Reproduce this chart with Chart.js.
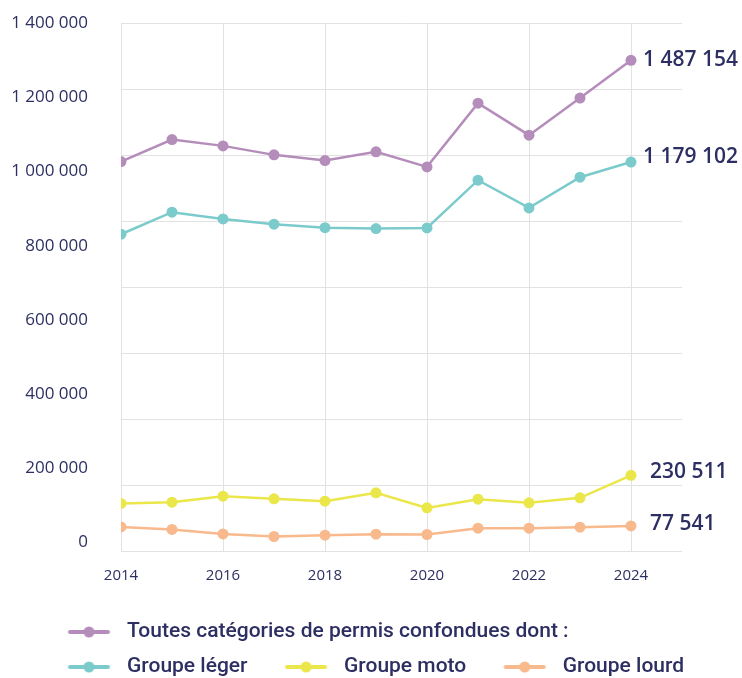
<!DOCTYPE html>
<html>
<head>
<meta charset="utf-8">
<script src="https://cdn.jsdelivr.net/npm/chart.js@4.4.1/dist/chart.umd.min.js"></script>
<style>
  html, body { margin: 0; padding: 0; background: #fff; }
  #wrap { width: 742px; height: 678px; }
</style>
</head>
<body>
<div id="wrap"><canvas id="permisChart" width="742" height="678"></canvas></div>
<script>
const years = [2014, 2015, 2016, 2017, 2018, 2019, 2020, 2021, 2022, 2023, 2024];
const xTicks = [2014, 2016, 2018, 2020, 2022, 2024];
const yTickLabels = [0, 200000, 400000, 600000, 800000, 1000000, 1200000, 1400000];

const seriesNames = [
  'Toutes catégories de permis confondues dont :',
  'Groupe léger',
  'Groupe moto',
  'Groupe lourd'
];
const totalAll = [1180500, 1247000, 1228000, 1200800, 1183500, 1209900, 1164400, 1357400, 1260500, 1372600, 1487154];
const groupeLeger = [960500, 1027200, 1006900, 990800, 980500, 977500, 979600, 1124100, 1040200, 1133200, 1179102];
const groupeMoto = [145400, 149400, 167600, 159400, 152400, 177600, 132100, 158500, 147300, 162400, 230511];
const groupeLourd = [74500, 66700, 53300, 45400, 49400, 52400, 51500, 70600, 70600, 73600, 77541];

const colors = ['#b58dbb', '#7ccbcc', '#ebe64a', '#f8b98c'];
const navy = '#2d2f62';

// espaces comme séparateur de milliers
const fmt = v => String(v).replace(/\B(?=(\d{3})+(?!\d))/g, ' ');

// petit marqueur "ligne + point" pour la légende
function makeMarker(color) {
  const c = document.createElement('canvas');
  c.width = 72; c.height = 14;
  const g = c.getContext('2d');
  g.strokeStyle = color;
  g.lineWidth = 4;
  g.lineCap = 'round';
  g.beginPath();
  g.moveTo(25.5, 7);
  g.lineTo(63.5, 7);
  g.stroke();
  g.fillStyle = color;
  g.beginPath();
  g.arc(44.5, 7, 5.5, 0, Math.PI * 2);
  g.fill();
  return c;
}

const allSeries = [totalAll, groupeLeger, groupeMoto, groupeLourd];
const labelOffsets = [[12, 0], [12, -5], [19, -3], [19, -2]];

const endLabels = {
  id: 'endLabels',
  afterDatasetsDraw(chart) {
    const ctx = chart.ctx;
    ctx.save();
    ctx.font = '600 21px "Open Sans"';
    ctx.fillStyle = navy;
    ctx.textAlign = 'left';
    ctx.textBaseline = 'middle';
    chart.data.datasets.forEach((ds, i) => {
      const meta = chart.getDatasetMeta(i);
      const pt = meta.data[meta.data.length - 1];
      const val = ds.data[ds.data.length - 1].y;
      ctx.fillText(fmt(val), pt.x + labelOffsets[i][0], pt.y + labelOffsets[i][1]);
    });
    ctx.restore();
  }
};

// décale la légende vers la droite (alignée sous les libellés)
const legendShift = {
  id: 'legendShift',
  afterLayout(chart) {
    if (chart.legend) {
      chart.legend.left += 30.5;
      chart.legend.right += 30.5;
    }
  }
};

const ctx = document.getElementById('permisChart').getContext('2d');
new Chart(ctx, {
  type: 'line',
  data: {
    datasets: allSeries.map((arr, i) => ({
      label: seriesNames[i],
      data: years.map((yr, k) => ({ x: yr, y: arr[k] })),
      borderColor: colors[i],
      backgroundColor: colors[i],
      pointBackgroundColor: colors[i],
      pointBorderWidth: 0,
      pointRadius: 5.5,
      borderWidth: 2.5,
      tension: 0,
      fill: false,
      yAxisID: 'y'
    }))
  },
  options: {
    responsive: false,
    animation: false,
    events: [],
    layout: { padding: { top: 23, left: 0, right: 0, bottom: -9.5 } },
    plugins: {
      tooltip: { enabled: false },
      legend: {
        position: 'bottom',
        align: 'start',
        labels: {
          usePointStyle: true,
          pointStyleWidth: 72,
          padding: 14,
          color: navy,
          font: { family: 'Roboto', size: 21, weight: '500' },
          generateLabels: (chart) => {
            const items = Chart.defaults.plugins.legend.labels.generateLabels(chart);
            items.forEach((it, i) => { it.pointStyle = makeMarker(colors[i]); });
            return items;
          }
        }
      }
    },
    scales: {
      x: {
        type: 'linear',
        min: 2014,
        max: 2025,
        afterBuildTicks: axis => { axis.ticks = xTicks.map(v => ({ value: v })); },
        afterFit: axis => { axis.height = 56; },
        grid: { color: '#e2e2e2', lineWidth: 1, drawTicks: false },
        border: { display: false },
        ticks: {
          color: navy,
          padding: 15,
          font: { family: 'Open Sans', size: 15 },
          callback: v => String(v)
        }
      },
      yl: {
        position: 'left',
        min: -24000,
        max: 1400000,
        afterBuildTicks: axis => { axis.ticks = yTickLabels.map(v => ({ value: v })); },
        afterFit: axis => {
          axis.width = 121;
          axis.paddingTop = 0;
          axis.paddingBottom = 0;
        },
        grid: { display: false, drawTicks: false },
        border: { display: false },
        ticks: {
          color: navy,
          padding: 33,
          font: { family: 'Open Sans', size: 17 },
          callback: v => fmt(v)
        }
      },
      y: {
        position: 'left',
        min: 0,
        max: 1600000,
        ticks: { display: false, stepSize: 200000 },
        afterFit: axis => { axis.width = 0; },
        grid: { color: '#e2e2e2', lineWidth: 1, drawTicks: false },
        border: { display: false }
      },
      yr: {
        position: 'right',
        ticks: { display: false },
        grid: { display: false, drawTicks: false },
        border: { display: false },
        afterFit: axis => { axis.width = 60; }
      }
    }
  },
  plugins: [endLabels, legendShift]
});
</script>
</body>
</html>
